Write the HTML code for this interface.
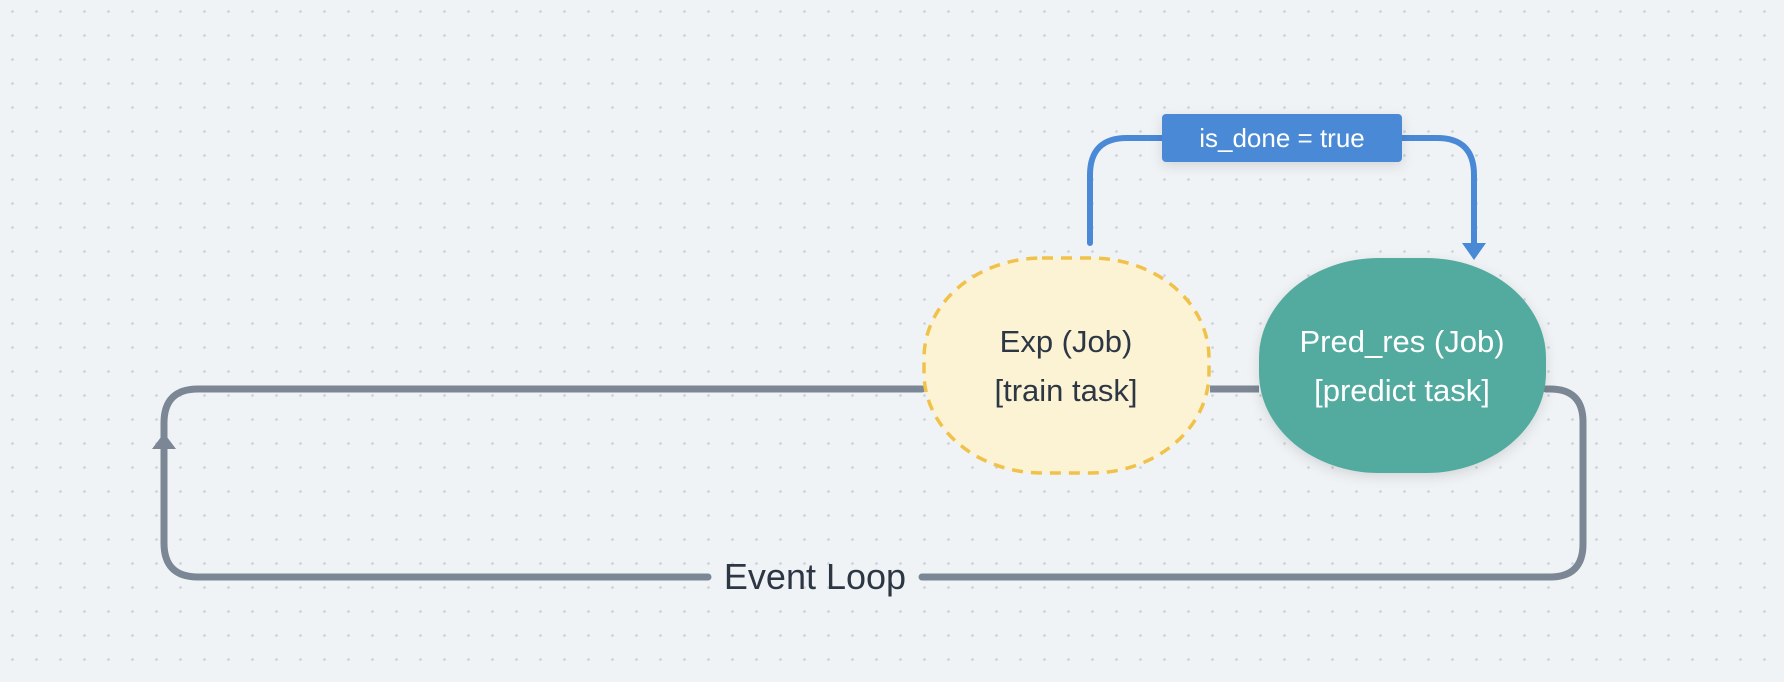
<!DOCTYPE html>
<html><head><style>
html,body{margin:0;padding:0;}
body{width:1784px;height:682px;overflow:hidden;background:#f0f3f6;}
svg{display:block}
text{font-family:"Liberation Sans Narrow","Liberation Sans",sans-serif;}
</style></head><body>
<svg width="1784" height="682" viewBox="0 0 1784 682" xmlns="http://www.w3.org/2000/svg">
<defs>
<pattern id="dots" x="11" y="10" width="24" height="24" patternUnits="userSpaceOnUse">
<circle cx="1.5" cy="1.5" r="1.3" fill="#c9cfd8"/>
</pattern>
<filter id="sh" x="-20%" y="-20%" width="140%" height="150%"><feDropShadow dx="0" dy="4" stdDeviation="6" flood-color="#000" flood-opacity="0.12"/></filter>
</defs>
<rect width="1784" height="682" fill="url(#dots)"/>
<!-- gray loop -->
<path d="M 922 389 L 198 389 Q 164 389 164 423 L 164 543 Q 164 577 198 577 L 708 577" fill="none" stroke="#7b8794" stroke-width="7" stroke-linecap="round"/>
<path d="M 922 577 L 1550 577 Q 1583 577 1583 544 L 1583 422 Q 1583 389 1550 389 L 1546 389" fill="none" stroke="#7b8794" stroke-width="7" stroke-linecap="round"/>
<line x1="1210" y1="389" x2="1259" y2="389" stroke="#7b8794" stroke-width="7"/>
<polygon points="164,433 152,449 176,449" fill="#7b8794"/>
<text x="815" y="589" text-anchor="middle" font-size="36" fill="#2d3744">Event Loop</text>
<!-- blue connector -->
<path d="M 1090 243 L 1090 175 Q 1090 138 1127 138 L 1437 138 Q 1474 138 1474 175 L 1474 245" fill="none" stroke="#4a89d6" stroke-width="6" stroke-linecap="round"/>
<polygon points="1462,243 1486,243 1474,260" fill="#4a89d6"/>
<rect x="1162" y="114" width="240" height="48" rx="4" fill="#4a89d6" filter="url(#sh)"/>
<text x="1282" y="147" text-anchor="middle" font-size="26" fill="#ffffff">is_done = true</text>
<!-- Exp node -->
<rect x="924" y="258" width="285" height="215" rx="118" ry="100" fill="#fcf2d4" stroke="#f1c24a" stroke-width="3.5" stroke-dasharray="11 8"/>
<text x="1066" y="352" text-anchor="middle" font-size="31" fill="#2d3744">Exp (Job)</text>
<text x="1066" y="401" text-anchor="middle" font-size="31" fill="#2d3744">[train task]</text>
<!-- Pred node -->
<rect x="1259" y="258" width="287" height="215" rx="120" ry="100" fill="#52ab9f" filter="url(#sh)"/>
<text x="1402" y="352" text-anchor="middle" font-size="31" fill="#ffffff">Pred_res (Job)</text>
<text x="1402" y="401" text-anchor="middle" font-size="31" fill="#ffffff">[predict task]</text>
</svg>
</body></html>
